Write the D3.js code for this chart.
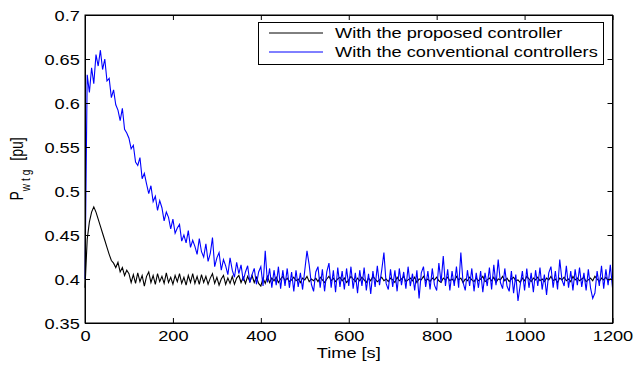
<!DOCTYPE html>
<html lang="en">

<head>
    <meta charset="UTF-8">
    <script src="https://cdnjs.cloudflare.com/ajax/libs/d3/7.8.5/d3.min.js"></script>
    <title>P_wtg response</title>
    <style>
        body { margin: 0; background: #fff; }
        svg text { font-family: "Liberation Sans", Arial, Helvetica, sans-serif; font-size: 14px; fill: #000; }
    </style>
</head>

<body>
    <svg width="635" height="366"></svg>
    <script>
        // sample spacing of both series, seconds
        var step = 5;

        // with the conventional controllers (blue), t = 0, 5, ... 1200
        var conventional = [
            0.400, 0.632, 0.612, 0.640, 0.622, 0.655, 0.642, 0.660, 0.638, 0.650, // 0
            0.625, 0.628, 0.606, 0.615, 0.598, 0.592, 0.580, 0.594, 0.570, 0.566, // 50
            0.560, 0.548, 0.552, 0.533, 0.529, 0.538, 0.514, 0.520, 0.508, 0.497, // 100
            0.506, 0.488, 0.494, 0.478, 0.489, 0.481, 0.466, 0.476, 0.470, 0.457, // 150
            0.468, 0.452, 0.458, 0.462, 0.443, 0.450, 0.441, 0.455, 0.436, 0.444, // 200
            0.437, 0.428, 0.446, 0.431, 0.425, 0.440, 0.420, 0.429, 0.447, 0.414, // 250
            0.424, 0.430, 0.410, 0.422, 0.415, 0.405, 0.424, 0.410, 0.402, 0.419, // 300
            0.406, 0.416, 0.398, 0.408, 0.415, 0.396, 0.405, 0.412, 0.394, 0.408, // 350
            0.414, 0.392, 0.432, 0.396, 0.412, 0.390, 0.410, 0.393, 0.414, 0.389, // 400
            0.410, 0.392, 0.412, 0.390, 0.408, 0.386, 0.410, 0.391, 0.407, 0.388, // 450
            0.410, 0.432, 0.416, 0.394, 0.386, 0.408, 0.414, 0.390, 0.411, 0.386, // 500
            0.408, 0.418, 0.390, 0.410, 0.385, 0.413, 0.391, 0.409, 0.388, 0.412, // 550
            0.392, 0.414, 0.389, 0.407, 0.384, 0.410, 0.392, 0.413, 0.387, 0.406, // 600
            0.383, 0.409, 0.391, 0.415, 0.393, 0.410, 0.430, 0.395, 0.388, 0.411, // 650
            0.391, 0.410, 0.386, 0.412, 0.393, 0.408, 0.389, 0.414, 0.392, 0.406, // 700
            0.387, 0.410, 0.378, 0.407, 0.414, 0.391, 0.409, 0.388, 0.412, 0.393, // 750
            0.387, 0.418, 0.396, 0.426, 0.392, 0.411, 0.387, 0.409, 0.392, 0.414, // 800
            0.390, 0.430, 0.396, 0.387, 0.410, 0.392, 0.412, 0.386, 0.407, 0.390, // 850
            0.409, 0.385, 0.407, 0.392, 0.413, 0.388, 0.416, 0.393, 0.422, 0.396, // 900
            0.389, 0.412, 0.392, 0.386, 0.409, 0.384, 0.405, 0.375, 0.393, 0.409, // 950
            0.387, 0.412, 0.390, 0.407, 0.385, 0.410, 0.392, 0.413, 0.388, 0.405, // 1000
            0.382, 0.407, 0.414, 0.390, 0.409, 0.388, 0.422, 0.399, 0.392, 0.415, // 1050
            0.390, 0.409, 0.387, 0.411, 0.393, 0.413, 0.391, 0.407, 0.387, 0.411, // 1100
            0.390, 0.378, 0.384, 0.409, 0.392, 0.415, 0.389, 0.411, 0.393, 0.416, // 1150
            0.390                                                                  // 1200
        ];

        // with the proposed controller (black), t = 0, 5, ... 1200
        var proposed = [
            0.390, 0.445, 0.465, 0.476, 0.482, 0.476, 0.468, 0.460, 0.452, 0.444, // 0
            0.436, 0.428, 0.421, 0.418, 0.413, 0.419, 0.408, 0.413, 0.404, 0.410, // 50
            0.406, 0.396, 0.405, 0.395, 0.407, 0.397, 0.404, 0.392, 0.403, 0.408, // 100
            0.396, 0.404, 0.394, 0.406, 0.397, 0.403, 0.395, 0.407, 0.396, 0.402, // 150
            0.394, 0.404, 0.397, 0.406, 0.395, 0.402, 0.393, 0.404, 0.396, 0.406, // 200
            0.395, 0.403, 0.394, 0.405, 0.396, 0.403, 0.394, 0.401, 0.406, 0.395, // 250
            0.402, 0.393, 0.400, 0.404, 0.394, 0.401, 0.395, 0.403, 0.394, 0.401, // 300
            0.404, 0.396, 0.402, 0.395, 0.403, 0.397, 0.404, 0.396, 0.402, 0.395, // 350
            0.392, 0.401, 0.395, 0.403, 0.396, 0.401, 0.398, 0.402, 0.396, 0.400, // 400
            0.403, 0.398, 0.401, 0.397, 0.399, 0.402, 0.398, 0.400, 0.396, 0.401, // 450
            0.399, 0.403, 0.397, 0.400, 0.398, 0.401, 0.397, 0.402, 0.399, 0.396, // 500
            0.400, 0.403, 0.398, 0.401, 0.397, 0.400, 0.402, 0.398, 0.401, 0.396, // 550
            0.399, 0.403, 0.400, 0.397, 0.401, 0.398, 0.402, 0.399, 0.396, 0.401, // 600
            0.398, 0.403, 0.400, 0.397, 0.399, 0.402, 0.398, 0.400, 0.397, 0.401, // 650
            0.399, 0.396, 0.402, 0.398, 0.400, 0.403, 0.397, 0.399, 0.401, 0.398, // 700
            0.402, 0.396, 0.400, 0.399, 0.403, 0.398, 0.400, 0.397, 0.401, 0.399, // 750
            0.402, 0.398, 0.396, 0.401, 0.399, 0.402, 0.398, 0.400, 0.397, 0.403, // 800
            0.399, 0.401, 0.396, 0.400, 0.398, 0.402, 0.399, 0.397, 0.401, 0.398, // 850
            0.400, 0.403, 0.397, 0.399, 0.401, 0.398, 0.402, 0.396, 0.400, 0.399, // 900
            0.403, 0.398, 0.401, 0.397, 0.400, 0.402, 0.398, 0.399, 0.396, 0.401, // 950
            0.398, 0.403, 0.400, 0.397, 0.401, 0.399, 0.402, 0.398, 0.400, 0.397, // 1000
            0.401, 0.399, 0.403, 0.398, 0.400, 0.396, 0.401, 0.399, 0.402, 0.398, // 1050
            0.400, 0.397, 0.403, 0.399, 0.401, 0.398, 0.400, 0.402, 0.397, 0.399, // 1100
            0.401, 0.398, 0.403, 0.400, 0.397, 0.401, 0.399, 0.402, 0.398, 0.400, // 1150
            0.399                                                                  // 1200
        ];

        var xTicks = [0, 200, 400, 600, 800, 1000, 1200];
        var yTicks = [0.35, 0.4, 0.45, 0.5, 0.55, 0.6, 0.65, 0.7];
        var legendLabels = ["With the proposed controller", "With the conventional controllers"];
        var seriesColors = ["#000000", "#0000ff"];

        var plotL = 85, plotR = 612.5, plotT = 15, plotB = 323;
        var stretch = "scale(1.3,1)"; // the picture's text is wide

        var svg = d3.select("svg");

        var x = d3.scaleLinear().domain([0, 1200]).range([plotL, plotR]);
        var y = d3.scaleLinear().domain([0.35, 0.7]).range([plotB, plotT]);

        var line = d3.line()
            .x((d, i) => x(i * step))
            .y(d => y(d));

        // data lines, black first so the blue lies on top
        svg.append("path")
            .datum(proposed)
            .attr("d", line)
            .attr("fill", "none")
            .attr("stroke", seriesColors[0])
            .attr("stroke-width", 1.1);

        svg.append("path")
            .datum(conventional)
            .attr("d", line)
            .attr("fill", "none")
            .attr("stroke", seriesColors[1])
            .attr("stroke-width", 1.1);

        // axes with inward ticks, matlab style box
        var xAxis = svg.append("g")
            .attr("transform", "translate(0," + plotB + ")")
            .call(d3.axisBottom(x).tickValues(xTicks).tickFormat(d3.format("d")).tickSize(-5).tickSizeOuter(0));
        xAxis.selectAll("text")
            .attr("y", 18)
            .attr("dy", 0)
            .attr("transform", stretch);

        var yAxis = svg.append("g")
            .attr("transform", "translate(" + plotL + ",0)")
            .call(d3.axisLeft(y).tickValues(yTicks).tickFormat(d3.format("")).tickSize(-5).tickSizeOuter(0));
        yAxis.selectAll("text")
            .attr("x", -4)
            .attr("dy", "0.36em")
            .attr("transform", stretch);

        svg.append("g")
            .attr("transform", "translate(0," + plotT + ")")
            .call(d3.axisTop(x).tickValues(xTicks).tickSize(-5).tickSizeOuter(0).tickFormat(""));
        svg.append("g")
            .attr("transform", "translate(" + plotR + ",0)")
            .call(d3.axisRight(y).tickValues(yTicks).tickSize(-5).tickSizeOuter(0).tickFormat(""));

        svg.selectAll(".domain").attr("stroke", "#000");
        svg.selectAll(".tick line").attr("stroke", "#000");
        svg.selectAll(".tick text").attr("font-size", null).attr("font-family", null);

        svg.append("rect")
            .attr("x", plotL)
            .attr("y", plotT)
            .attr("width", plotR - plotL)
            .attr("height", plotB - plotT)
            .attr("fill", "none")
            .attr("stroke", "#000");

        // axis titles
        svg.append("text")
            .attr("text-anchor", "middle")
            .attr("transform", "translate(" + ((plotL + plotR) / 2) + ",358) " + stretch)
            .text("Time [s]");

        var yl = svg.append("text")
            .attr("text-anchor", "middle")
            .attr("transform", "translate(23,169) " + stretch + " rotate(-90)");
        yl.append("tspan").text("P");
        yl.append("tspan").attr("dy", 5).style("font-size", "10px").attr("letter-spacing", 3).text("wtg");
        yl.append("tspan").attr("dy", -5).attr("dx", 6).text("[pu]");

        // legend
        var legend = svg.append("g");
        legend.append("rect")
            .attr("x", 258.5)
            .attr("y", 22.5)
            .attr("width", 345)
            .attr("height", 42)
            .attr("fill", "#fff")
            .attr("stroke", "#000");

        legendLabels.forEach((label, i) => {
            var ly = 33 + i * 19;
            legend.append("line")
                .attr("x1", 269)
                .attr("x2", 323)
                .attr("y1", ly)
                .attr("y2", ly)
                .attr("stroke", seriesColors[i]);
            legend.append("text")
                .attr("transform", "translate(335," + (ly + 5) + ") " + stretch)
                .text(label);
        });
    </script>
</body>

</html>
